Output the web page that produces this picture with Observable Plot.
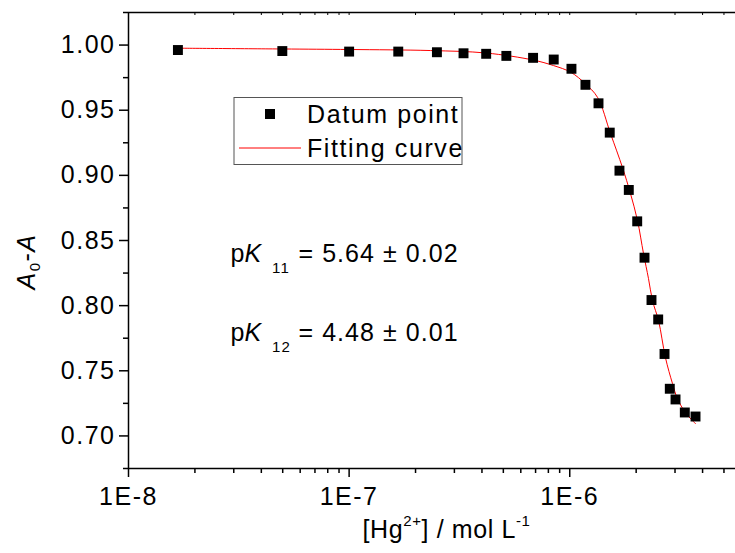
<!DOCTYPE html>
<html><head><meta charset="utf-8">
<script src="https://cdn.jsdelivr.net/npm/d3@7"></script>
<script src="https://cdn.jsdelivr.net/npm/@observablehq/plot@0.6"></script>
<style>html,body{margin:0;padding:0;background:#fff}#chart svg{display:block}</style>
</head><body><div id="chart"></div>
<script>
// ---- data ----
const pointX = [1.675e-8, 4.98e-8, 1.00e-7, 1.67e-7, 2.50e-7, 3.30e-7, 4.18e-7, 5.16e-7, 6.82e-7, 8.46e-7,
  1.018e-6, 1.178e-6, 1.350e-6, 1.518e-6, 1.680e-6, 1.852e-6, 2.022e-6, 2.182e-6, 2.347e-6, 2.517e-6,
  2.689e-6, 2.841e-6, 3.016e-6, 3.323e-6, 3.716e-6];
const pointY = [0.9962, 0.9954, 0.9950, 0.9950, 0.9945, 0.9937, 0.9933, 0.9917, 0.9902, 0.9889,
  0.9818, 0.9695, 0.9553, 0.9328, 0.9036, 0.8888, 0.8647, 0.8368, 0.8043, 0.7894,
  0.7629, 0.7362, 0.7280, 0.7180, 0.7149];
const curveX = [1.68e-8, 4.98e-8, 1.0e-7, 2.335e-7, 4.18e-7, 6.83e-7, 8.43e-7, 1.012e-6, 1.178e-6, 1.336e-6,
  1.530e-6, 1.734e-6, 1.885e-6, 2.028e-6, 2.159e-6, 2.275e-6, 2.372e-6, 2.526e-6, 2.716e-6, 2.923e-6,
  3.078e-6, 3.347e-6, 3.716e-6];
const curveY = [0.9976, 0.9970, 0.9966, 0.9958, 0.9939, 0.9885, 0.9843, 0.9791, 0.9702, 0.9599,
  0.9321, 0.9060, 0.8860, 0.8653, 0.8400, 0.8207, 0.8038, 0.7885, 0.7600, 0.7401,
  0.7286, 0.7178, 0.7094];
const xDomain = [1e-8, 5.64e-6];
const yDomain = [0.675, 1.025];
const xMajorTicks = [1e-8, 1e-7, 1e-6];
const xMajorLabels = ["1E-8", "1E-7", "1E-6"];
const xMinorTicks = [2e-8, 3e-8, 4e-8, 5e-8, 6e-8, 7e-8, 8e-8, 9e-8,
  2e-7, 3e-7, 4e-7, 5e-7, 6e-7, 7e-7, 8e-7, 9e-7, 2e-6, 3e-6, 4e-6, 5e-6];
const yMajorTicks = [0.70, 0.75, 0.80, 0.85, 0.90, 0.95, 1.00];
const yMinorTicks = [0.675, 0.725, 0.775, 0.825, 0.875, 0.925, 0.975, 1.025];
const legendLabels = ["Datum point", "Fitting curve"];
const annotations = [
  {sub: "11", value: "= 5.64 \u00b1 0.02"},
  {sub: "12", value: "= 4.48 \u00b1 0.01"}
];

// ---- layout ----
const W = 735, H = 553, mL = 128, mR = 0, mT = 12, mB = 85;
const innerH = H - mT - mB;
const font = "'Liberation Sans', Arial, Helvetica, sans-serif";
const FS = 25;

const points = pointX.map((x, i) => ({x, y: pointY[i]}));
const curve = curveX.map((x, i) => ({x, y: curveY[i]}));
const allX = xMajorTicks.concat(xMinorTicks);

const svg = Plot.plot({
  width: W, height: H,
  marginLeft: mL, marginRight: mR, marginTop: mT, marginBottom: mB,
  style: {fontFamily: font, fontSize: FS + "px", color: "black", background: "white", overflow: "visible"},
  x: {type: "log", domain: xDomain, label: null},
  y: {domain: yDomain, label: null},
  marks: [
    Plot.axisX({ticks: xMajorTicks, tickFormat: d => xMajorLabels[xMajorTicks.indexOf(d)],
      tickSize: 9, tickPadding: 10, strokeWidth: 1.5, label: null, fontSize: FS}),
    Plot.axisX({ticks: xMinorTicks, tickFormat: () => "", tickSize: 5, strokeWidth: 1.5, label: null}),
    Plot.axisY({ticks: yMajorTicks, tickFormat: d3.format(".2f"),
      tickSize: 9, tickPadding: 4, strokeWidth: 1.5, label: null, fontSize: FS}),
    Plot.axisY({ticks: yMinorTicks, tickFormat: () => "", tickSize: 5, strokeWidth: 1.5, label: null}),
    Plot.tickX(allX, {x: d => d, insetBottom: innerH - 3, strokeWidth: 1}),
    Plot.ruleX([xDomain[0]], {strokeWidth: 1.5}),
    Plot.ruleY([yDomain[0]], {strokeWidth: 1.5}),
    Plot.ruleY([yDomain[1]], {strokeWidth: 1.5}),
    Plot.line(curve, {x: "x", y: "y", stroke: "#ff0000", strokeWidth: 1, curve: "catmull-rom"}),
    Plot.dot(points, {x: "x", y: "y", symbol: "square", r: 5.6, fill: "black", stroke: null})
  ]
});

const s = d3.select(svg);
s.selectAll("text").style("letter-spacing", "1.5px");
const g = s.append("g").attr("font-family", font).attr("font-size", FS)
  .attr("fill", "black").attr("text-anchor", "start");

// y axis title
const yl = g.append("text").attr("transform", "translate(35,261.5) rotate(-90)")
  .attr("text-anchor", "middle").style("letter-spacing", "1.5px");
yl.append("tspan").attr("font-style", "italic").text("A");
yl.append("tspan").attr("font-size", 15).attr("dy", 5).text("0");
yl.append("tspan").attr("dy", -5).text("-");
yl.append("tspan").attr("font-style", "italic").text("A");

// x axis title
const xl = g.append("text").attr("x", 446.5).attr("y", 538)
  .attr("text-anchor", "middle").style("letter-spacing", "0.6px");
xl.append("tspan").text("[Hg");
xl.append("tspan").attr("font-size", 15).attr("dy", -12).text("2+");
xl.append("tspan").attr("dy", 12).text("] / mol L");
xl.append("tspan").attr("font-size", 15).attr("dy", -12).text("-1");

// legend
const lg = g.append("g");
lg.append("rect").attr("x", 234).attr("y", 97.5).attr("width", 228).attr("height", 67)
  .attr("fill", "white").attr("stroke", "#555").attr("stroke-width", 1);
lg.append("rect").attr("x", 265).attr("y", 109).attr("width", 10).attr("height", 10).attr("fill", "black");
lg.append("line").attr("x1", 239).attr("x2", 301).attr("y1", 148).attr("y2", 148)
  .attr("stroke", "#ff0000").attr("stroke-width", 1);
legendLabels.forEach((t, i) => {
  lg.append("text").attr("x", 307).attr("y", i === 0 ? 123.3 : 156.7)
    .style("letter-spacing", "1.6px").text(t);
});

// annotations
annotations.forEach((a, i) => {
  const base = i === 0 ? 262.3 : 341.3;
  const t = g.append("text").attr("y", base);
  t.append("tspan").attr("x", 230.5).text("p");
  t.append("tspan").attr("font-style", "italic").text("K");
  t.append("tspan").attr("x", 272).attr("font-size", 15).attr("dy", 10.5).style("letter-spacing", "1.2px").text(a.sub);
  t.append("tspan").attr("x", 298.5).attr("dy", -10.5).style("letter-spacing", "1.05px").text(a.value);
});

document.getElementById("chart").appendChild(svg);
</script>
</body></html>
